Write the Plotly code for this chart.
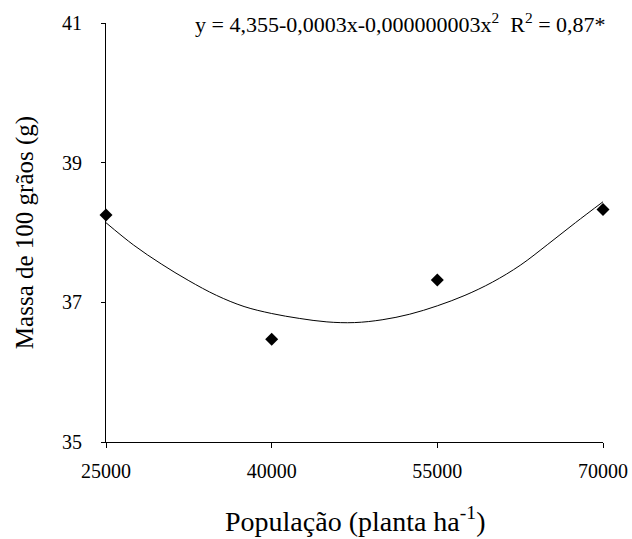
import plotly.graph_objects as go

# Observed points
populacao = [25000, 40000, 55000, 70000]
massa = [38.25, 36.47, 37.32, 38.33]

# Fitted curve
curva_x = [25000, 27500, 30000, 32500, 35000, 37500, 40000, 42500, 45000, 47500,
           50000, 52500, 55000, 57500, 60000, 62500, 65000, 67500, 70000]
curva_y = [38.14, 37.82, 37.55, 37.31, 37.10, 36.94, 36.84, 36.77, 36.72, 36.71,
           36.75, 36.83, 36.95, 37.10, 37.29, 37.53, 37.83, 38.14, 38.44]

x_ticks = [25000, 40000, 55000, 70000]
y_ticks = [35, 37, 39, 41]

FONT = "Liberation Serif"

fig = go.Figure()
fig.add_trace(go.Scatter(x=curva_x, y=curva_y, mode="lines",
                         line=dict(color="black", width=1, shape="spline", smoothing=1.0),
                         showlegend=False, cliponaxis=False))
fig.add_trace(go.Scatter(x=populacao, y=massa, mode="markers",
                         marker=dict(symbol="diamond", size=10, color="black"),
                         showlegend=False, cliponaxis=False))

fig.update_layout(
    width=632, height=539,
    margin=dict(l=106, r=29, t=23, b=97),
    paper_bgcolor="white", plot_bgcolor="white",
    font=dict(family=FONT, color="black", size=20),
    xaxis=dict(range=[25000, 70000], tickvals=x_ticks, ticktext=[str(v) for v in x_ticks],
               showgrid=False, zeroline=False, showline=True, linecolor="black", linewidth=1,
               ticks="outside", ticklen=5, tickcolor="black", tickfont=dict(size=20),
               ticklabelstandoff=6, automargin=False),
    yaxis=dict(range=[35, 41], tickvals=y_ticks, showgrid=False, zeroline=False,
               showline=True, linecolor="black", linewidth=1,
               ticks="outside", ticklen=4, tickcolor="black", tickfont=dict(size=20),
               ticklabelstandoff=15, automargin=False,
               title=dict(text="Massa de 100 grãos (g)", font=dict(size=25), standoff=21)),
    annotations=[
        dict(xref="paper", yref="paper", x=1.01, y=1.0, xanchor="right", yanchor="middle",
             showarrow=False, font=dict(size=22),
             text="y = 4,355-0,0003x-0,000000003x<sup>2</sup>  R<sup>2</sup> = 0,87*"),
        dict(xref="paper", yref="paper", x=0.5, y=-0.185, xanchor="center", yanchor="middle",
             showarrow=False, font=dict(size=28),
             text="População (planta ha<sup>-1</sup>)"),
    ],
)

fig.write_html("out.html", config={"displayModeBar": False},
               post_script="document.body.style.margin='0';")
